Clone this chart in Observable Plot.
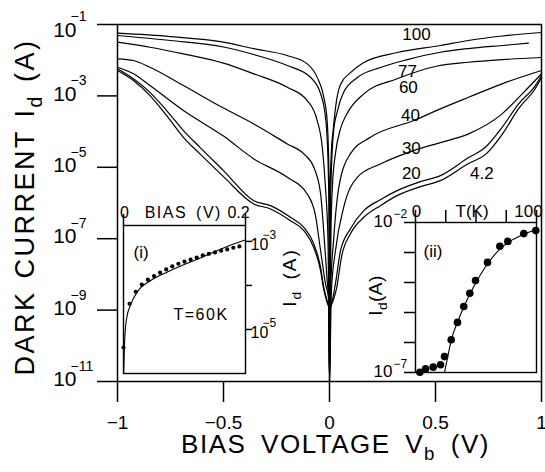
<!DOCTYPE html>
<html>
<head>
<meta charset="utf-8">
<script src="https://cdn.jsdelivr.net/npm/d3@7"></script>
<script src="https://cdn.jsdelivr.net/npm/@observablehq/plot@0.6"></script>
<style>
html, body { margin: 0; padding: 0; background: #fff; overflow: hidden; }
#chart { position: relative; width: 545px; height: 472px; }
#chart svg { position: absolute; }
#chart [aria-label^="x-axis"] line, #chart [aria-label^="x-axis"] path,
#chart [aria-label^="y-axis"] line, #chart [aria-label^="y-axis"] path { stroke-width: 1.5px; stroke: #000; }
</style>
</head>
<body>
<div id="chart"></div>
<script>
const FONT = "'Liberation Sans', Arial, Helvetica, sans-serif";

// ---------- main chart: dark current I_d (A) vs bias voltage V_b (V), one curve per temperature ----------
const temps = ["100", "77", "60", "40", "30", "20", "4.2"];
const curve100 = [[-1,5.7e-2],[-0.75,4.6e-2],[-0.5,3.2e-2],[-0.357,2.1e-2],[-0.2,1.35e-2],[-0.105,7.9e-3],[-0.058,3.3e-3],[-0.027,9.2e-4],[-0.011,2.0e-4],[-0.002,4.3e-6],[0,1e-11],
  [0.002,1.2e-6],[0.009,3.0e-5],[0.017,1.07e-4],[0.033,7.4e-4],[0.052,2.1e-3],[0.099,4.5e-3],[0.16,8.5e-3],[0.32,1.64e-2],[0.523,2.58e-2],[0.655,3.56e-2],[0.815,4.76e-2],[1,5.97e-2]];
const curve77 = [[-1,4.92e-2],[-0.75,3.56e-2],[-0.5,2.34e-2],[-0.357,1.44e-2],[-0.199,7.1e-3],[-0.09,3.33e-3],[-0.042,1.14e-3],[-0.019,2.52e-4],[-0.008,2.42e-5],[-0.002,3.2e-7],[0,1e-11],
  [0.005,1.2e-6],[0.019,1.0e-4],[0.038,3.89e-4],[0.066,1.24e-3],[0.132,3.27e-3],[0.24,6.22e-3],[0.368,1.04e-2],[0.523,1.67e-2],[0.655,2.12e-2],[0.815,2.58e-2],[0.938,2.99e-2]];
const curve60 = [[-1,3.19e-2],[-0.847,2.31e-2],[-0.689,1.51e-2],[-0.5,8.3e-3],[-0.357,4.15e-3],[-0.199,1.75e-3],[-0.105,7.4e-4],[-0.058,2.04e-4],[-0.034,3.63e-5],[-0.019,2.75e-6],[-0.007,8.7e-8],[0,1e-11],
  [0.007,1.66e-7],[0.014,3.09e-6],[0.028,2.42e-5],[0.052,1.21e-4],[0.083,3.2e-4],[0.162,1.14e-3],[0.319,3.01e-3],[0.509,6.87e-3],[0.655,8.77e-3],[0.815,1.04e-2],[1,1.19e-2]];
const curve40 = [[-1,1.09e-2],[-0.925,9.8e-3],[-0.847,6.35e-3],[-0.689,1.95e-3],[-0.5,4.56e-4],[-0.357,1.64e-4],[-0.199,4.52e-5],[-0.121,2.37e-5],[-0.074,1.0e-5],[-0.042,1.83e-6],[-0.024,8.7e-8],[-0.009,4.8e-9],[-0.002,1.8e-9],[0,1e-11],
  [0.005,3.5e-9],[0.019,8.7e-8],[0.044,2.75e-6],[0.099,2.42e-5],[0.193,6.92e-5],[0.397,2.04e-4],[0.523,4.34e-4],[0.656,9.16e-4],[0.814,2.18e-3],[1,5.13e-3]];
const curve30 = [[-1,6.35e-3],[-0.925,4.15e-3],[-0.847,1.95e-3],[-0.689,3.88e-4],[-0.5,7.48e-5],[-0.357,1.72e-5],[-0.199,5.24e-6],[-0.105,1.79e-6],[-0.066,4.42e-7],[-0.042,4.61e-8],[-0.019,5.5e-9],[-0.003,1.82e-9],[0,1e-11],
  [0.009,3.47e-9],[0.028,4.61e-8],[0.067,7.55e-7],[0.131,5.24e-6],[0.24,1.24e-5],[0.397,2.94e-5],[0.523,4.92e-5],[0.656,8.63e-5],[0.814,3.13e-4],[0.909,1.14e-3],[1,4.15e-3]];
const curve20 = [[-1,5.73e-3],[-0.925,3.01e-3],[-0.847,1.26e-3],[-0.768,3.88e-4],[-0.689,1.07e-4],[-0.611,3.63e-5],[-0.5,8.07e-6],[-0.357,1.16e-6],[-0.278,8.43e-7],[-0.184,3.96e-7],[-0.121,2.07e-7],[-0.074,7.11e-8],[-0.042,1.57e-8],[-0.027,4.32e-9],[-0.011,1.83e-9],[-0.002,1.19e-9],[0,1e-11],
  [0.002,1.1e-9],[0.013,1.83e-9],[0.028,5.5e-9],[0.052,4.61e-8],[0.099,1.91e-7],[0.162,6.11e-7],[0.24,1.24e-6],[0.319,2.22e-6],[0.429,3.97e-6],[0.523,5.85e-6],[0.656,1.87e-5],[0.735,3.63e-5],[0.814,1.32e-4],[0.892,5.98e-4],[0.971,1.95e-3],[1,3.72e-3]];
const curve4 = [[-1,5.13e-3],[-0.925,2.69e-3],[-0.847,1.02e-3],[-0.768,2.81e-4],[-0.689,6.92e-5],[-0.611,2.37e-5],[-0.5,5.48e-6],[-0.357,9.4e-7],[-0.278,6.81e-7],[-0.184,3.2e-7],[-0.121,1.68e-7],[-0.074,5.6e-8],[-0.042,1.27e-8],[-0.027,3.72e-9],[-0.011,1.61e-9],[-0.002,1.09e-9],[0,1e-11],
  [0.002,9.55e-10],[0.014,1.62e-9],[0.033,3.98e-9],[0.057,3.16e-8],[0.099,1.38e-7],[0.162,3.98e-7],[0.24,8.43e-7],[0.319,1.61e-6],[0.429,2.87e-6],[0.523,4.24e-6],[0.656,1.27e-5],[0.735,2.26e-5],[0.814,8.24e-5],[0.892,4.42e-4],[0.971,1.61e-3],[1,3.27e-3]];

// temperature labels placed next to their curves (bias, current)
const labelText = ["100", "77", "60", "40", "30", "20", "4.2"];
const labelV = [0.41, 0.368, 0.372, 0.382, 0.386, 0.386, 0.719];
const labelI = [5.2e-2, 4.7e-3, 1.75e-3, 2.8e-4, 3.3e-5, 6.6e-6, 6.6e-6];

const yTicks = [1e-1, 1e-3, 1e-5, 1e-7, 1e-9, 1e-11];
const yTickExp = ["\u22121", "\u22123", "\u22125", "\u22127", "\u22129", "\u221211"];
const xTicks = [-1, -0.5, 0, 0.5, 1];

// ---------- inset (i): T = 60 K, I_d vs bias 0..0.2 V ----------
const in1DotV = [0, 0.01, 0.02, 0.03, 0.04, 0.05, 0.06, 0.07, 0.08, 0.09, 0.10, 0.11, 0.12, 0.13, 0.14, 0.15, 0.16, 0.17, 0.18, 0.19];
const in1DotI = [3.9e-6, 3.84e-5, 7.2e-5, 1.04e-4, 1.35e-4, 1.63e-4, 1.95e-4, 2.31e-4, 2.70e-4, 3.11e-4, 3.46e-4, 3.84e-4, 4.27e-4, 4.81e-4, 5.25e-4, 5.62e-4, 6.15e-4, 6.58e-4, 7.19e-4, 7.69e-4];
const in1FitV = [0.0003, 0.0013, 0.003, 0.0054, 0.0119, 0.0229, 0.0446, 0.072, 0.126, 0.197, 0.2];
const in1FitI = [1.05e-6, 3.55e-6, 1.0e-5, 1.86e-5, 3.72e-5, 7.24e-5, 1.30e-4, 2.03e-4, 4.22e-4, 1.05e-3, 1.08e-3];
const in1Ticks = [1e-3, 1e-4, 1e-5];
const in1LabTicks = [1e-3, 1e-5];
const in1LabExp = ["\u22123", "\u22125"];

// ---------- inset (ii): I_d vs temperature T (K) ----------
const in2DotT = [3.6, 8.3, 14.6, 20.7, 24, 29.5, 34.7, 39.9, 44.9, 49.6, 59.5, 69.7, 76.3, 89.5, 99.4];
const in2DotI = [1.02e-7, 1.32e-7, 1.51e-7, 1.82e-7, 3.39e-7, 1.23e-6, 4.68e-6, 1.58e-5, 4.37e-5, 1.17e-4, 4.68e-4, 1.62e-3, 2.34e-3, 4.27e-3, 5.37e-3];
const in2FitT = [24, 26.5, 30, 35, 40, 45, 50, 60, 70, 80, 90, 100];
const in2FitI = [1.0e-7, 3.16e-7, 1.41e-6, 5.01e-6, 1.58e-5, 4.17e-5, 1.0e-4, 4.47e-4, 1.32e-3, 2.63e-3, 4.17e-3, 5.89e-3];
const in2Ticks = [1e-2, 1e-3, 1e-4, 1e-5, 1e-6, 1e-7];
const in2LabTicks = [1e-2, 1e-7];
const in2LabExp = ["\u22122", "\u22127"];

// ---------- build tables ----------
const curveArrays = [curve100, curve77, curve60, curve40, curve30, curve20, curve4];
const rows = curveArrays.flatMap((pts, k) => pts.map(([V, I]) => ({T: temps[k], V, I})));
const labels = labelText.map((t, i) => ({t, V: labelV[i], I: labelI[i]}));
const in1Dots = in1DotV.map((V, i) => ({V, I: in1DotI[i]}));
const in1Fit = in1FitV.map((V, i) => ({V, I: in1FitI[i]}));
const in2Dots = in2DotT.map((T, i) => ({T, I: in2DotI[i]}));
const in2Fit = in2FitT.map((T, i) => ({T, I: in2FitI[i]}));

const blank = () => "";
const fmtX = d => d === 0 ? "0" : (d < 0 ? "\u2212" : "") + Math.abs(d);
const tickIdx = yTicks.map((d, i) => i);

const main = Plot.plot({
  width: 545, height: 472,
  marginLeft: 117, marginRight: 4, marginTop: 24, marginBottom: 91,
  style: {fontFamily: FONT, fontSize: "19px", background: "white", left: "0px", top: "0px", overflow: "visible"},
  x: {domain: [-1, 1], ticks: xTicks, tickSize: 21, tickPadding: 13, tickFormat: fmtX, label: null},
  y: {type: "log", domain: [1e-11, 1e-1], ticks: yTicks, tickSize: 20, tickFormat: blank, label: null},
  marks: [
    Plot.frame({stroke: "black", strokeWidth: 1.5}),
    Plot.line(rows, {x: "V", y: "I", z: "T", stroke: "black", strokeWidth: 1.2, curve: "monotone-x"}),
    Plot.text(labels, {x: "V", y: "I", text: "t", fontSize: 17, fill: "black"}),
    // top tick label sits a little lower, as in the original
    Plot.text(tickIdx.slice(0, 1), {y: i => yTicks[i], frameAnchor: "left", text: () => "10", textAnchor: "end", dx: -41, dy: 6, fontSize: 21}),
    Plot.text(tickIdx.slice(0, 1), {y: i => yTicks[i], frameAnchor: "left", text: i => yTickExp[i], textAnchor: "start", dx: -47, dy: -8, fontSize: 14}),
    Plot.text(tickIdx.slice(1), {y: i => yTicks[i], frameAnchor: "left", text: () => "10", textAnchor: "end", dx: -41, dy: -2, fontSize: 21}),
    Plot.text(tickIdx.slice(1), {y: i => yTicks[i], frameAnchor: "left", text: i => yTickExp[i], textAnchor: "start", dx: -47, dy: -15, fontSize: 14}),
    Plot.text(["BIAS VOLTAGE V_{b} (V)"], {text: d => d, frameAnchor: "bottom", textAnchor: "middle", dx: 6, dy: 71, fontSize: 26}),
    Plot.text(["DARK CURRENT I_{d} (A)"], {text: d => d, frameAnchor: "left", textAnchor: "middle", dx: -92, dy: 4, rotate: -90, fontSize: 27})
  ]
});

const inset1 = Plot.plot({
  width: 215, height: 200,
  marginLeft: 28, marginRight: 65, marginTop: 40, marginBottom: 12,
  style: {fontFamily: FONT, fontSize: "16px", background: "transparent", left: "95px", top: "185px", overflow: "visible"},
  x: {domain: [0, 0.2], axis: "top", ticks: [0, 0.2], tickSize: 12, tickFormat: blank, label: null},
  y: {type: "log", domain: [1e-6, 2.3e-3], axis: "right", ticks: in1Ticks, tickSize: 6, tickFormat: blank, label: null},
  marks: [
    Plot.frame({fill: "white", stroke: "black", strokeWidth: 1.4}),
    Plot.line(in1Fit, {x: "V", y: "I", stroke: "black", strokeWidth: 1.1, curve: "monotone-x"}),
    Plot.dot(in1Dots, {x: "V", y: "I", r: 2.1, fill: "black", stroke: "none"}),
    Plot.text(["(i)"], {text: d => d, frameAnchor: "top-left", textAnchor: "start", dx: 10, dy: 20, fontSize: 17}),
    Plot.text(["T=60K"], {text: d => d, frameAnchor: "top-left", textAnchor: "start", dx: 50, dy: 83, fontSize: 16}),
    Plot.text(["0"], {x: 0, text: d => d, frameAnchor: "top", textAnchor: "middle", dx: 1, dy: -19, fontSize: 16}),
    Plot.text(["BIAS (V)"], {x: 0.098, text: d => d, frameAnchor: "top", textAnchor: "middle", dy: -19, fontSize: 16}),
    Plot.text(["0.2"], {x: 0.2, text: d => d, frameAnchor: "top", textAnchor: "middle", dx: -7, dy: -19, fontSize: 16}),
    Plot.text(in1LabTicks, {y: d => d, frameAnchor: "right", text: () => "10", textAnchor: "start", dx: 5, dy: 3, fontSize: 16}),
    Plot.text(in1LabTicks, {y: d => d, frameAnchor: "right", text: (d, i) => in1LabExp[i], textAnchor: "start", dx: 17, dy: -6, fontSize: 12}),
    Plot.text(["I_{d} (A)"], {text: d => d, frameAnchor: "right", textAnchor: "middle", dx: 44, dy: -22, rotate: -90, fontSize: 19})
  ]
});

const inset2 = Plot.plot({
  width: 185, height: 200,
  marginLeft: 55, marginRight: 9, marginTop: 37, marginBottom: 13,
  style: {fontFamily: FONT, fontSize: "17px", background: "transparent", left: "360px", top: "185px", overflow: "visible"},
  x: {domain: [0, 100], axis: "top", ticks: [0, 25, 50, 75, 100], tickSize: 13, tickFormat: blank, label: null},
  y: {type: "log", domain: [1e-7, 1e-2], axis: "left", ticks: in2Ticks, tickSize: 11, tickFormat: blank, label: null},
  marks: [
    Plot.frame({fill: "white", stroke: "black", strokeWidth: 1.4}),
    Plot.line(in2Fit, {x: "T", y: "I", stroke: "black", strokeWidth: 1.1, curve: "monotone-x"}),
    Plot.dot(in2Dots, {x: "T", y: "I", r: 3.8, fill: "black", stroke: "none"}),
    Plot.text(["(ii)"], {text: d => d, frameAnchor: "top-left", textAnchor: "start", dx: 8, dy: 22, fontSize: 17}),
    Plot.text(["0"], {x: 0, text: d => d, frameAnchor: "top", textAnchor: "middle", dx: 1, dy: -18, fontSize: 17}),
    Plot.text(["T(K)"], {x: 46.7, text: d => d, frameAnchor: "top", textAnchor: "middle", dy: -18, fontSize: 17}),
    Plot.text(["100"], {x: 100, text: d => d, frameAnchor: "top", textAnchor: "middle", dx: -8, dy: -18, fontSize: 17}),
    Plot.text(in2LabTicks, {y: d => d, frameAnchor: "left", text: () => "10", textAnchor: "end", dx: -23, dy: -1, fontSize: 17}),
    Plot.text(in2LabTicks, {y: d => d, frameAnchor: "left", text: (d, i) => in2LabExp[i], textAnchor: "start", dx: -22, dy: -8, fontSize: 12}),
    Plot.text(["I_{d}(A)"], {text: d => d, frameAnchor: "left", textAnchor: "middle", dx: -40, dy: -2, rotate: -90, fontSize: 19})
  ]
});

// letter / word spacing of the wide-set labels, keyed by their text
const spacing = {
  "BIAS VOLTAGE V_{b} (V)": ["1.5px", "6px"],
  "DARK CURRENT I_{d} (A)": ["2.5px", "2px"],
  "I_{d} (A)": ["2px", "3px"],
  "I_{d}(A)": ["0.5px", "0px"],
  "T=60K": ["1.5px", "0px"],
  "BIAS (V)": ["1.5px", "3px"]
};

// turn "X_{sub}" / "X^{sup}" markers into real tspans
function richText(svg) {
  const NS = "http://www.w3.org/2000/svg";
  svg.querySelectorAll("text").forEach(t => {
    const s = t.textContent;
    if (spacing[s]) {
      t.style.letterSpacing = spacing[s][0];
      t.style.wordSpacing = spacing[s][1];
    }
    if (!/[_^]\{/.test(s)) return;
    const fs = parseFloat(getComputedStyle(t).fontSize) || 16;
    while (t.firstChild) t.removeChild(t.firstChild);
    const re = /([_^])\{([^}]*)\}/g;
    let last = 0, cur = 0, m;
    const add = (str, off, scale) => {
      if (!str) return;
      const ts = document.createElementNS(NS, "tspan");
      ts.textContent = str;
      const dy = off - cur;
      if (dy) ts.setAttribute("dy", dy.toFixed(2));
      if (scale) ts.setAttribute("font-size", (fs * scale).toFixed(1));
      cur = off;
      t.appendChild(ts);
    };
    while ((m = re.exec(s))) {
      add(s.slice(last, m.index), 0);
      if (m[1] === "_") add(m[2], 0.28 * fs, 0.72);
      else add(m[2], -0.45 * fs, 0.7);
      last = re.lastIndex;
    }
    add(s.slice(last), 0);
  });
}

const root = document.getElementById("chart");
[main, inset1, inset2].forEach(svg => { root.appendChild(svg); richText(svg); });
</script>
</body>
</html>
